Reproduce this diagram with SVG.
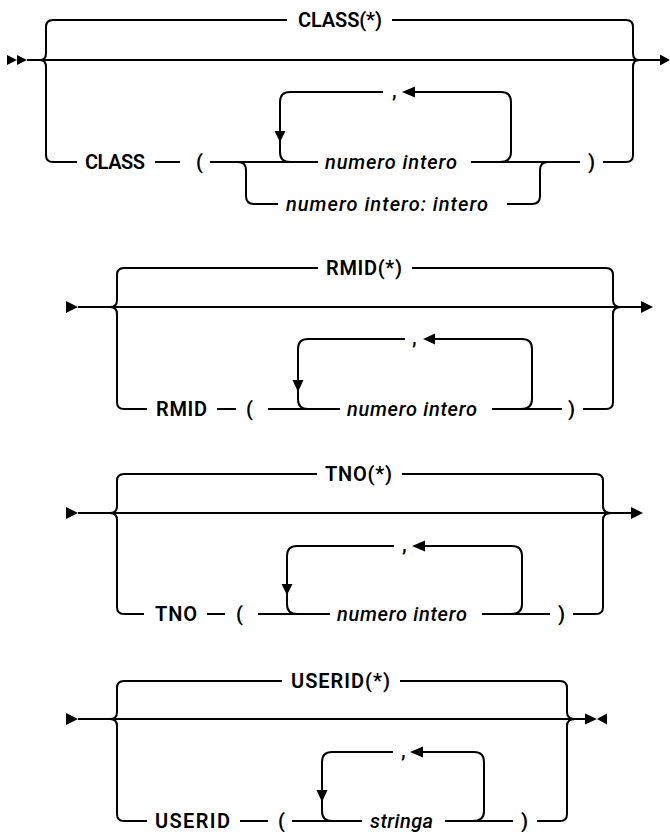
<svg xmlns="http://www.w3.org/2000/svg" width="670" height="832" viewBox="0 0 670 832">
<style>
.l{fill:none;stroke:#000;stroke-width:2}
.a{fill:#000;stroke:none}
.t{font-family:Roboto,"Liberation Sans",Arial,sans-serif;font-size:20px;font-weight:600;fill:#000}
.i{font-style:italic;font-weight:500}
</style>
<rect width="670" height="832" fill="#fff"/>
<g id="connectors">
<!-- Diagram 1 -->
<polygon class="a" points="7,55 17,60 7,65"/>
<polygon class="a" points="17,55 27,60 17,65"/>
<path class="l" d="M27,60 H660"/>
<polygon class="a" points="660,54.5 670,60 660,65.5"/>
<path class="l" d="M53,20 Q46,20 46,27 V53 Q46,60 40,60 M40,60 Q46,60 46,67 V155 Q46,162 53,162"/>
<path class="l" d="M626,20 Q633,20 633,27 V53 Q633,60 639,60 M639,60 Q633,60 633,67 V155 Q633,162 626,162"/>
<path class="l" d="M53,20 H287 M392,20 H626"/>
<path class="l" d="M53,162 H77 M155,162 H180 M210,162 H318 M471,162 H580 M603,162 H626"/>
<path class="l" d="M500,162 Q511,162 511,152 V102 Q511,92 501,92 H415 M383,92 H290 Q280,92 280,102 V152 Q280,162 290,162"/>
<polygon class="a" points="402,92 415,86.5 415,97.5"/>
<polygon class="a" points="274.5,131 285.5,131 280,142"/>
<path class="l" d="M238,162 Q246,162 246,170 V196 Q246,204 254,204 H278 M507,204 H532 Q540,204 540,196 V170 Q540,162 548,162"/>
<!-- Diagram 2 -->
<polygon class="a" points="66,301 78,307 66,313"/>
<path class="l" d="M78,307 H642"/>
<polygon class="a" points="641,301 653,307 641,313"/>
<path class="l" d="M124,268 Q117,268 117,275 V300 Q117,307 110,307 M110,307 Q117,307 117,314 V402 Q117,409 124,409"/>
<path class="l" d="M606,268 Q613,268 613,275 V300 Q613,307 621,307 M621,307 Q613,307 613,314 V402 Q613,409 606,409"/>
<path class="l" d="M124,268 H318 M412,268 H606"/>
<path class="l" d="M124,409 H147 M217,409 H236 M268,409 H340 M492,409 H562 M583,409 H606"/>
<path class="l" d="M521,409 Q532,409 532,399 V349 Q532,339 522,339 H435 M405,339 H308 Q298,339 298,349 V399 Q298,409 308,409"/>
<polygon class="a" points="423,339 435,333.5 435,344.5"/>
<polygon class="a" points="292.5,380 303.5,380 298,392"/>
<!-- Diagram 3 -->
<polygon class="a" points="66,507 78,513 66,519"/>
<path class="l" d="M78,513 H631"/>
<polygon class="a" points="631,507 643,513 631,519"/>
<path class="l" d="M124,474 Q117,474 117,481 V506 Q117,513 110,513 M110,513 Q117,513 117,520 V607 Q117,614 124,614"/>
<path class="l" d="M596,474 Q603,474 603,481 V506 Q603,513 611,513 M611,513 Q603,513 603,520 V607 Q603,614 596,614"/>
<path class="l" d="M124,474 H317 M402,474 H596"/>
<path class="l" d="M124,614 H144 M207,614 H225 M258,614 H330 M482,614 H550 M573,614 H596"/>
<path class="l" d="M511,614 Q522,614 522,604 V556 Q522,546 512,546 H425 M394,546 H297 Q287,546 287,556 V604 Q287,614 297,614"/>
<polygon class="a" points="412,546 425,540.5 425,551.5"/>
<polygon class="a" points="281.5,584 292.5,584 287,595"/>
<!-- Diagram 4 -->
<polygon class="a" points="66,713 78,719 66,725"/>
<path class="l" d="M78,719 H585"/>
<polygon class="a" points="585,713.5 597,719 585,724.5"/>
<polygon class="a" points="607,713.5 597,719 607,724.5"/>
<path class="l" d="M124,681 Q117,681 117,688 V712 Q117,719 110,719 M110,719 Q117,719 117,726 V814 Q117,821 124,821"/>
<path class="l" d="M560,681 Q567,681 567,688 V712 Q567,719 575,719 M575,719 Q567,719 567,726 V814 Q567,821 560,821"/>
<path class="l" d="M124,681 H282 M400,681 H560"/>
<path class="l" d="M124,821 H147 M240,821 H268 M292,821 H362 M445,821 H513 M537,821 H560"/>
<path class="l" d="M473,821 Q484,821 484,811 V762 Q484,752 474,752 H423 M393,752 H332 Q322,752 322,762 V811 Q322,821 332,821"/>
<polygon class="a" points="410,752 423,746.5 423,757.5"/>
<polygon class="a" points="316.5,790 327.5,790 322,802"/>
</g>
<g id="n1-class-star"><text class="t" x="298" y="27" textLength="84">CLASS(*)</text></g>
<g id="n1-class"><text class="t" x="85" y="169" textLength="60">CLASS</text></g>
<g id="n1-lparen"><text class="t" x="196" y="169">(</text></g>
<g id="n1-comma"><text class="t" x="392" y="97">,</text></g>
<g id="n1-num"><text class="t i" x="325" y="169" textLength="132">numero intero</text></g>
<g id="n1-numrange"><text class="t i" x="286" y="211" textLength="202">numero intero: intero</text></g>
<g id="n1-rparen"><text class="t" x="588" y="169">)</text></g>

<g id="n2-rmid-star"><text class="t" x="326" y="275" textLength="76">RMID(*)</text></g>
<g id="n2-rmid"><text class="t" x="156" y="416" textLength="51">RMID</text></g>
<g id="n2-lparen"><text class="t" x="246" y="416">(</text></g>
<g id="n2-comma"><text class="t" x="412" y="344">,</text></g>
<g id="n2-num"><text class="t i" x="347" y="416" textLength="130">numero intero</text></g>
<g id="n2-rparen"><text class="t" x="568" y="416">)</text></g>

<g id="n3-tno-star"><text class="t" x="325" y="481" textLength="67">TNO(*)</text></g>
<g id="n3-tno"><text class="t" x="155" y="621" textLength="42">TNO</text></g>
<g id="n3-lparen"><text class="t" x="236" y="621">(</text></g>
<g id="n3-comma"><text class="t" x="402" y="551">,</text></g>
<g id="n3-num"><text class="t i" x="337" y="621" textLength="130">numero intero</text></g>
<g id="n3-rparen"><text class="t" x="558" y="621">)</text></g>

<g id="n4-userid-star"><text class="t" x="291" y="688" textLength="99">USERID(*)</text></g>
<g id="n4-userid"><text class="t" x="155" y="828" textLength="75">USERID</text></g>
<g id="n4-lparen"><text class="t" x="278" y="828">(</text></g>
<g id="n4-comma"><text class="t" x="401" y="757">,</text></g>
<g id="n4-str"><text class="t i" x="370" y="828" textLength="63">stringa</text></g>
<g id="n4-rparen"><text class="t" x="521" y="828">)</text></g>
</svg>
